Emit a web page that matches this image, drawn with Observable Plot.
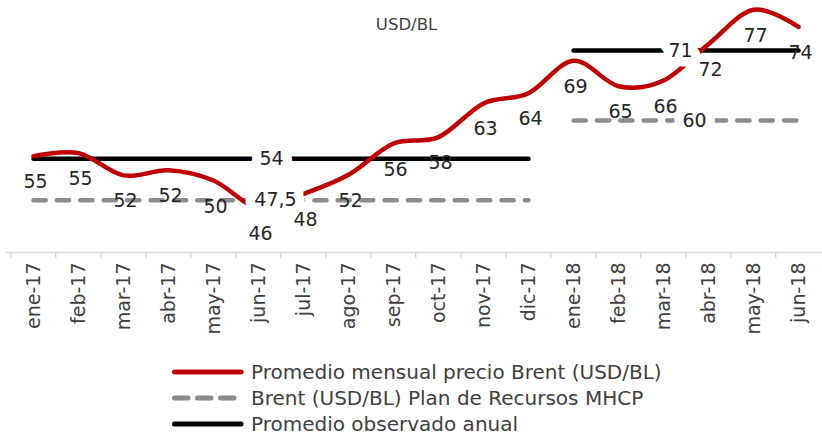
<!DOCTYPE html>
<html>
<head>
<meta charset="utf-8">
<script src="https://cdn.jsdelivr.net/npm/d3@7"></script>
<script src="https://cdn.jsdelivr.net/npm/@observablehq/plot@0.6"></script>
<style>
  html, body { margin: 0; padding: 0; background: #fff; }
  body { width: 822px; height: 437px; overflow: hidden; font-family: "DejaVu Sans", sans-serif; }
  #legend { margin-top: 9px; margin-left: 172px; }
  .row { display: flex; align-items: center; height: 26px; font-size: 20px; color: #404040; white-space: nowrap; }
  .row svg { margin-right: 7px; flex: none; }
</style>
</head>
<body>
<div id="chart"></div>
<div id="legend"></div>
<script>
// ---- data ----
const months = ["ene-17","feb-17","mar-17","abr-17","may-17","jun-17","jul-17","ago-17","sep-17","oct-17","nov-17","dic-17",
                "ene-18","feb-18","mar-18","abr-18","may-18","jun-18"];
const years = ["2017","2017","2017","2017","2017","2017","2017","2017","2017","2017","2017","2017",
               "2018","2018","2018","2018","2018","2018"];
const brent = [54.4, 54.9, 51.4, 52.2, 50.6, 46.3, 48.5, 51.5, 56.4, 57.4, 62.7, 64.3,
               69.4, 65.4, 66.3, 72.0, 77.4, 74.7];
const brentLabels = ["55","55","52","52","50","46","48","52","56","58","63","64","69","65","66","72","77","74"];
const planMHCP = [47.5, 47.5, 47.5, 47.5, 47.5, 47.5, 47.5, 47.5, 47.5, 47.5, 47.5, 47.5,
                  60, 60, 60, 60, 60, 60];
const observedAnnual = [54, 54, 54, 54, 54, 54, 54, 54, 54, 54, 54, 54,
                        71, 71, 71, 71, 71, 71];
const seriesNames = ["Promedio mensual precio Brent (USD/BL)", "Brent (USD/BL) Plan de Recursos MHCP", "Promedio observado anual"];
const title = "USD/BL";

const rows = months.map((m, i) => ({
  month: m, year: years[i], brent: brent[i], brentLabel: brentLabels[i],
  plan: planMHCP[i], observed: observedAnnual[i]
}));
const fmt = v => String(v).replace(".", ",");

const RED = "#c00000", GRAY = "#8c8c8c", BLACK = "#000000";
const SW = 4.5, DASH = "12.2,11.2";
const halfStep = 22.75;
const LBL = 19;

const chart = Plot.plot({
  width: 822,
  height: 350,
  marginLeft: 6,
  marginRight: 0,
  marginTop: 0,
  marginBottom: 98,
  style: { fontFamily: "DejaVu Sans, sans-serif", background: "#fff", overflow: "visible" },
  x: { type: "point", domain: months, range: [6, 825], padding: 0.5, label: null },
  y: { domain: [39.3, 78.85], axis: null },
  marks: [
    Plot.frame({ anchor: "bottom", stroke: "#d9d9d9", strokeWidth: 1.5 }),
    Plot.axisX({ anchor: "bottom", tickSize: 6, text: null, stroke: "#d9d9d9", strokeWidth: 1.5, dx: -halfStep, label: null }),
    Plot.axisX({ anchor: "bottom", tickSize: 0, tickPadding: 10, tickRotate: -90, fontSize: 19, color: "#404040", label: null }),
    Plot.line(rows, { x: "month", y: "plan", z: "year", stroke: GRAY, strokeWidth: SW, strokeDasharray: DASH, strokeLinecap: "round" }),
    Plot.line(rows, { x: "month", y: "observed", z: "year", stroke: BLACK, strokeWidth: SW, strokeLinecap: "round" }),
    Plot.line(rows, { x: "month", y: "brent", stroke: RED, strokeWidth: SW, curve: "cardinal", tension: 0 }),
    // labels of annual lines with white background
    Plot.text(rows, { filter: d => d.month === "jun-17", x: "month", y: "observed", text: d => fmt(d.observed), dx: 13, fontSize: LBL, fill: "#262626", stroke: "white", strokeWidth: 19, strokeLinejoin: "round" }),
    Plot.text(rows, { filter: d => d.month === "mar-18", x: "month", y: "observed", text: d => fmt(d.observed), dx: 17, fontSize: LBL, fill: "#262626", stroke: "white", strokeWidth: 19, strokeLinejoin: "round" }),
    Plot.text(rows, { filter: d => d.month === "jun-17", x: "month", y: "plan", text: d => fmt(d.plan), dx: 17, fontSize: LBL, fill: "#262626", stroke: "white", strokeWidth: 19, strokeLinejoin: "round" }),
    Plot.text(rows, { filter: d => d.month === "mar-18", x: "month", y: "plan", text: d => fmt(d.plan), dx: 31, fontSize: LBL, fill: "#262626", stroke: "white", strokeWidth: 19, strokeLinejoin: "round" }),
    // monthly labels
    Plot.text(rows, { x: "month", y: "brent", text: "brentLabel", dy: 26, dx: 2, fontSize: LBL, fill: "#262626" }),
    Plot.text([title], { frameAnchor: "top", dy: 18, dx: -8, fontSize: 16.5, fill: "#404040" })
  ]
});
document.getElementById("chart").appendChild(chart);

// legend
const legendItems = [
  { name: seriesNames[0], color: RED, dash: null },
  { name: seriesNames[1], color: GRAY, dash: "13.5,9.5" },
  { name: seriesNames[2], color: BLACK, dash: null }
];
const legend = d3.select("#legend");
legendItems.forEach(it => {
  const row = legend.append("div").attr("class", "row");
  const svg = row.append("svg").attr("width", 72).attr("height", 10);
  svg.append("line").attr("x1", 2.5).attr("x2", 69).attr("y1", 5).attr("y2", 5)
    .attr("stroke", it.color).attr("stroke-width", 5).attr("stroke-linecap", "round")
    .attr("stroke-dasharray", it.dash);
  row.append("span").text(it.name);
});
</script>
</body>
</html>
